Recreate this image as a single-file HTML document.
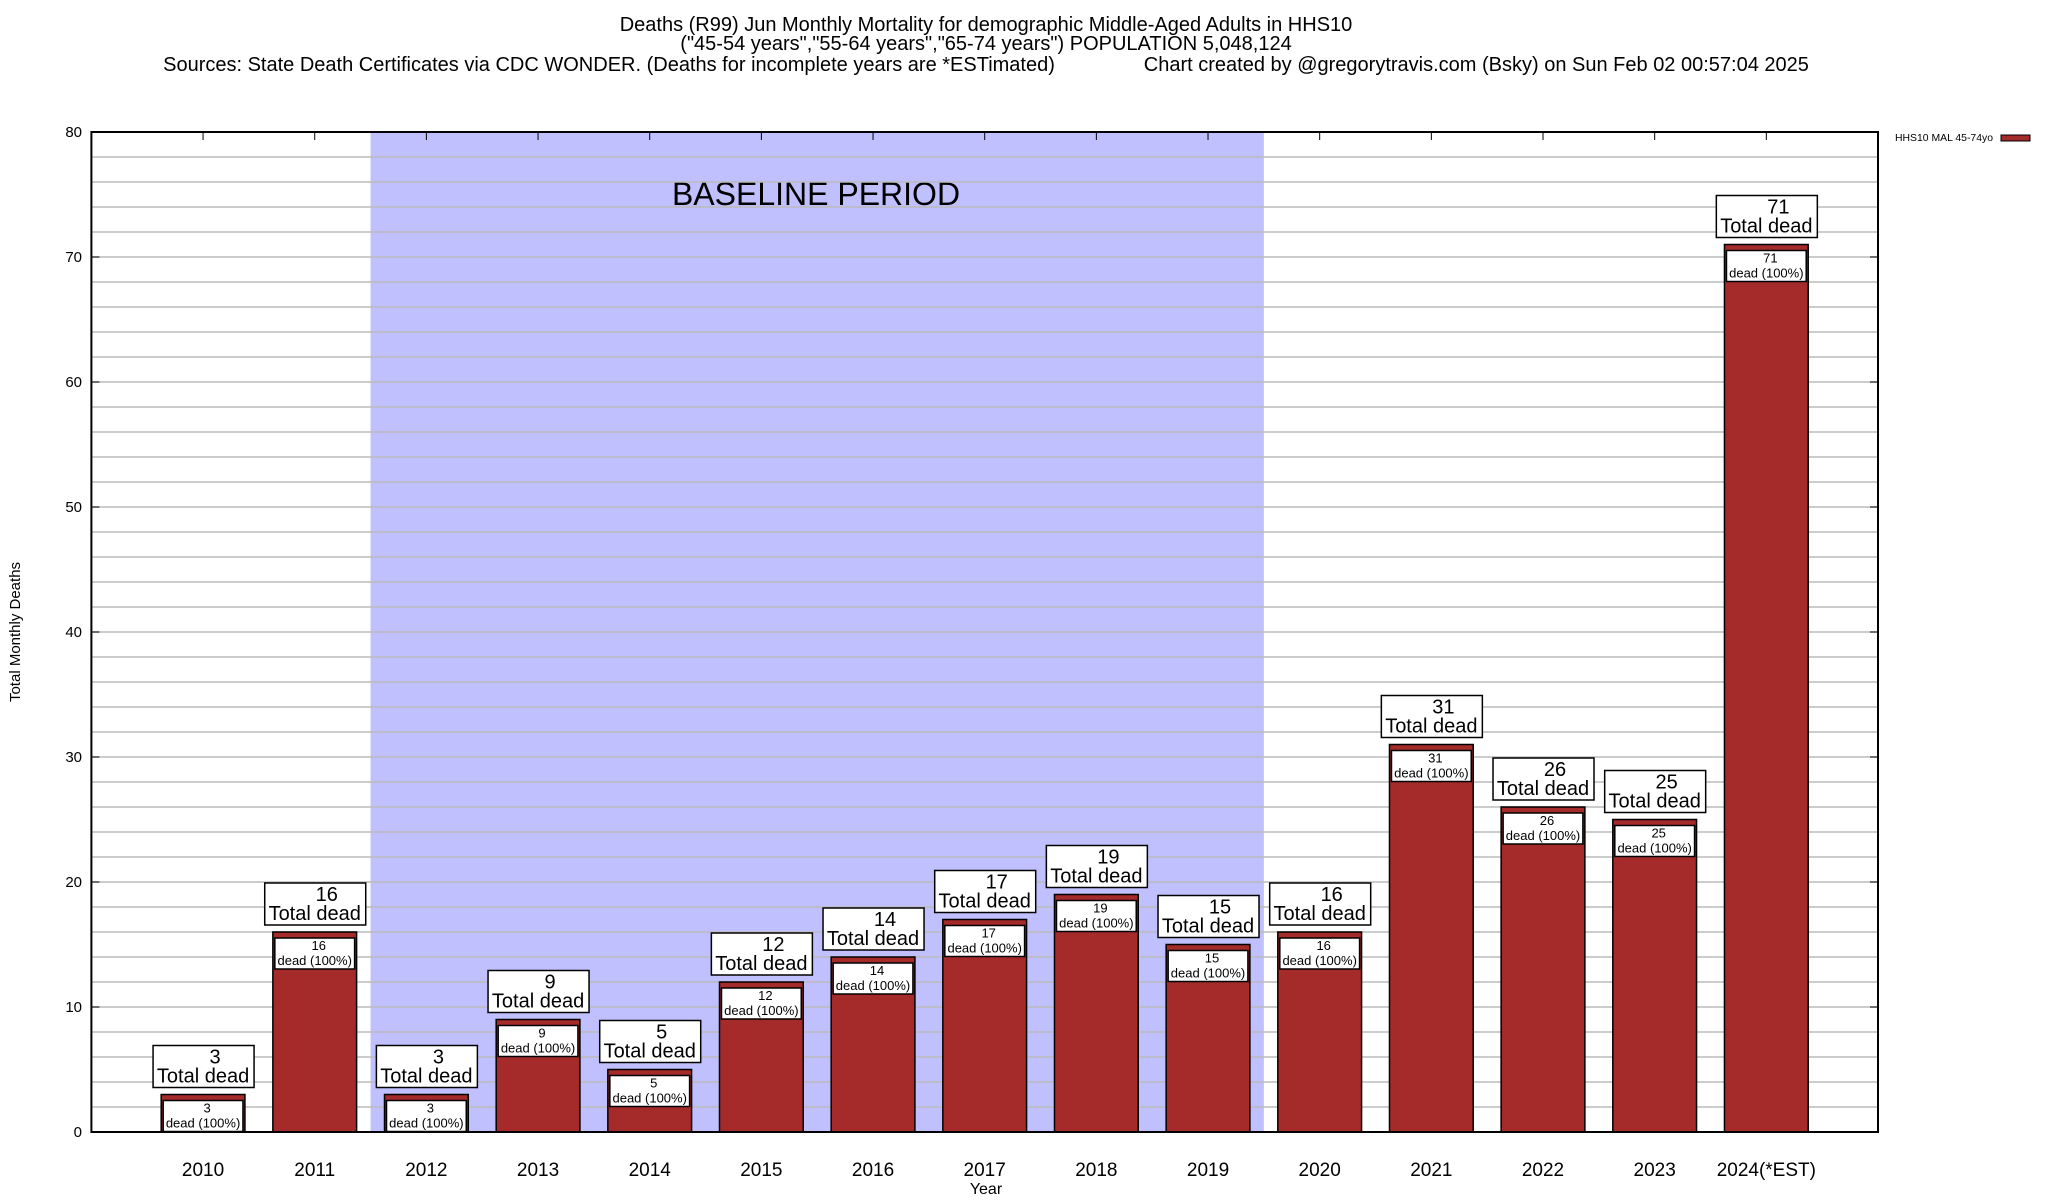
<!DOCTYPE html>
<html><head><meta charset="utf-8"><style>
body{margin:0;background:#fff;}
svg{display:block;font-family:"Liberation Sans",sans-serif;}
</style></head><body>
<svg id="chart" width="2048" height="1200" viewBox="0 0 2048 1200" xmlns="http://www.w3.org/2000/svg">
<g font-size="20" text-anchor="middle">
<text x="986" y="31">Deaths (R99) Jun Monthly Mortality for demographic Middle-Aged Adults in HHS10</text>
<text x="986" y="50">("45-54 years","55-64 years","65-74 years") POPULATION 5,048,124</text>
<text x="986" y="71" xml:space="preserve">Sources: State Death Certificates via CDC WONDER. (Deaths for incomplete years are *ESTimated)                Chart created by @gregorytravis.com (Bsky) on Sun Feb 02 00:57:04 2025</text>
</g>
<text x="20" y="632" font-size="15" text-anchor="middle" transform="rotate(-90 20 632)">Total Monthly Deaths</text>
<text x="986" y="1194" font-size="16" text-anchor="middle">Year</text>
<g>
<text x="1895" y="141" font-size="10.5" textLength="98" lengthAdjust="spacingAndGlyphs">HHS10 MAL 45-74yo</text>
<rect x="2001" y="135" width="29" height="6" fill="#a52a2a" stroke="#000" stroke-width="1"/>
</g>
<g id="plot"></g>
</svg>
<script>
const categories=["2010","2011","2012","2013","2014","2015","2016","2017","2018","2019","2020","2021","2022","2023","2024(*EST)"];
const deaths=[3,16,3,9,5,12,14,17,19,15,16,31,26,25,71];
const yTicks=[0,10,20,30,40,50,60,70,80];
const baselineStart="2012", baselineEnd="2019";
const L=91.4,R=1878,T=132,B=1132,yMax=80;
const step=(R-L)/(categories.length+1);
const xc=i=>L+(i+1)*step;
const y=v=>B-(v/yMax)*(B-T);
const NS="http://www.w3.org/2000/svg";
const g=document.getElementById('plot');
function mk(tag,attrs,parent){const e=document.createElementNS(NS,tag);for(const k in attrs)e.setAttribute(k,attrs[k]);(parent||g).appendChild(e);return e;}
const bs=categories.indexOf(baselineStart),be=categories.indexOf(baselineEnd);
let sh=mk('rect',{x:xc(bs)-step/2,y:T,width:(be-bs+1)*step,height:B-T,fill:'#c0c0ff'});


let bt=mk('text',{x:816,y:205,'font-size':32,'text-anchor':'middle'});bt.textContent='BASELINE PERIOD';


for(let v=2;v<yMax;v+=2){let l=mk('line',{x1:L,x2:R,y1:y(v),y2:y(v),stroke:'#bbb','stroke-width':1.5});

}
yTicks.forEach(v=>{
 mk('line',{x1:L,x2:L+8,y1:y(v),y2:y(v),stroke:'#000'});
 mk('line',{x1:R,x2:R-8,y1:y(v),y2:y(v),stroke:'#000'});
 let t=mk('text',{x:82,y:y(v)+5,'font-size':15,'text-anchor':'end'});t.textContent=v;
 
 
});
const bw=step*0.75;
categories.forEach((c,i)=>{
 const v=deaths[i],cx=xc(i),top=y(v);
 mk('line',{x1:cx,x2:cx,y1:T,y2:T+8,stroke:'#000'});
 let b=mk('rect',{x:cx-bw/2,y:top,width:bw,height:B-top,fill:'#a52a2a',stroke:'#000','stroke-width':1.5});
 
 
 const bh=Math.min(31,B-top-6);
 let ib=mk('rect',{x:cx-bw/2+2,y:top+6,width:bw-4,height:bh,fill:'#fff',stroke:'#000','stroke-width':1.5});
 
 
 let t1=mk('text',{x:cx+4,y:top+18,'font-size':13,'text-anchor':'middle'});t1.textContent=v;
 let t2=mk('text',{x:cx,y:top+33,'font-size':13,'text-anchor':'middle'});t2.textContent='dead (100%)';
 let ob=mk('rect',{x:cx-50,y:top-49,width:101,height:42,fill:'#fff',stroke:'#000','stroke-width':1.5});
 
 
 let t3=mk('text',{x:cx+12,y:top-31,'font-size':20,'text-anchor':'middle'});t3.textContent=v;
 let t4=mk('text',{x:cx,y:top-12,'font-size':20,'text-anchor':'middle'});t4.textContent='Total dead';
 let xl=mk('text',{x:cx,y:1176,'font-size':19,'text-anchor':'middle'});xl.textContent=c;
 
 
});
let fr=mk('rect',{x:L,y:T,width:R-L,height:B-T,fill:'none',stroke:'#000','stroke-width':2});


</script>
</body></html>
